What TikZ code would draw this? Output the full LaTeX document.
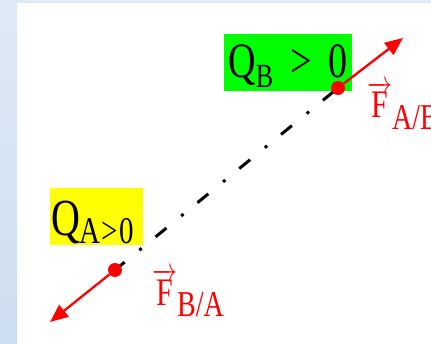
\documentclass[tikz,border=0pt]{standalone}
\usepackage{fontspec}
\setmainfont{Liberation Serif}
\usetikzlibrary{arrows.meta, positioning}
\definecolor{Frame}{HTML}{DFE9F6}
\definecolor{FrameDark}{HTML}{CDDEF0}
\definecolor{QGreen}{HTML}{00FF00}
\definecolor{QYellow}{HTML}{FFFF00}
\definecolor{FRed}{HTML}{FF0000}
\newcommand{\tallbox}[1]{\scalebox{1}[1.3]{#1}}
\newcommand{\sz}[1]{\fontsize{#1}{#1}\selectfont}

\begin{document}
\begin{tikzpicture}[x=1pt, y=1pt,
  charge/.style={rectangle, inner ysep=0pt, inner xsep=1pt, text=black},
  force/.style={-{Triangle[length=18pt, width=15pt]}, line width=2.3pt, FRed},
  dot/.style={circle, fill=FRed, inner sep=0pt, minimum size=14pt},
  flabel/.style={anchor=base west, inner sep=0pt, text=FRed}]
  \useasboundingbox (0,0) rectangle (431,343);
  % Frame
  \shade[top color=Frame, bottom color=FrameDark] (0,0) rectangle (17,343);
  \fill[Frame] (17,340) rectangle (431,343);
  % Charges
  \node[charge, fill=QGreen, minimum width=128pt, text height=44pt, text depth=13pt]
    (qB) at (288,280.5) {\sz{38}\tallbox{Q\raisebox{-7pt}{\sz{26}B}\hspace{17pt}>\hspace{17pt}0}};
  \node[charge, fill=QYellow, text width=91pt, align=left, text height=48pt, text depth=9pt]
    (qA) at (96.5,126.5) {\sz{40}\tallbox{Q\raisebox{-5.4pt}{\sz{29}A\kern1pt>\kern1pt0}}};
  % Line between the charges
  \coordinate (posA) at (115,73);
  \coordinate (posB) at (338,255);
  \draw[line width=3pt, dash pattern=on 14pt off 19pt on 3pt off 18pt, dash phase=1.6pt]
    (posA) -- (posB);
  \node[dot] (dotA) at (posA) {};
  \node[dot] (dotB) at (posB) {};
  % Forces
  \coordinate (tipA) at (50,21);
  \coordinate (tipB) at (403,305);
  \draw[force] (dotB) -- (tipB);
  \draw[force] (dotA) -- (tipA);
  \node[flabel] (fAB) at (367,225) {\sz{30}\tallbox{$\overrightarrow{\mathrm{F}}$\raisebox{-9pt}{\sz{28}A/B}}};
  \node[flabel] (fBA) at (152,38) {\sz{30}\tallbox{$\overrightarrow{\mathrm{F}}$\raisebox{-9pt}{\sz{28}B/A}}};
\end{tikzpicture}
\end{document}
